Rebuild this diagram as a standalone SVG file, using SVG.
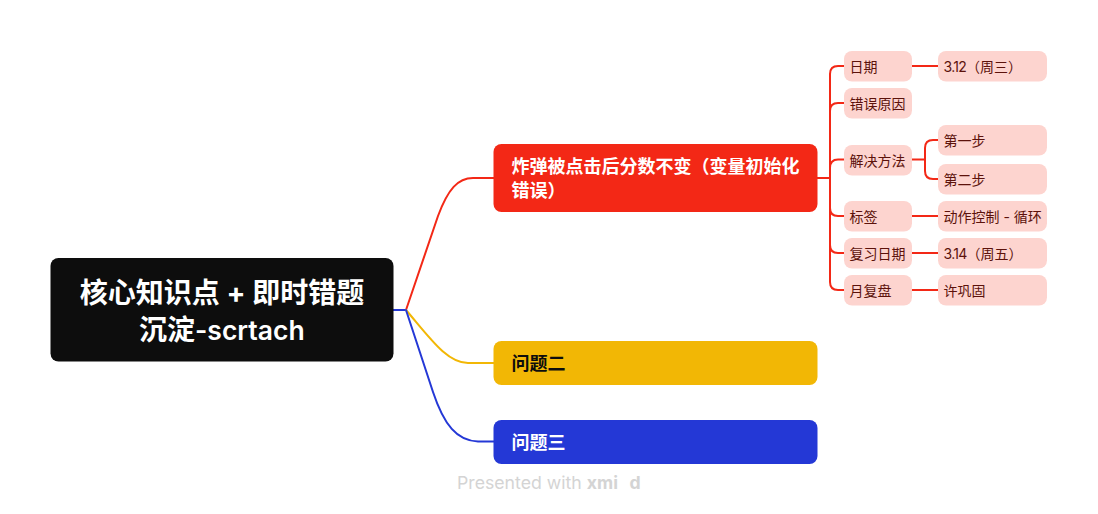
<svg xmlns="http://www.w3.org/2000/svg" width="1098" height="514" viewBox="0 0 1098 514">
<style>
text{font-family:"Inter","Noto Sans CJK SC",sans-serif}
.c{fill:none;stroke-width:2;stroke-linecap:round}
.r{stroke:#f32816}
.sub rect{fill:#fdd4cf}
.sub text{font-size:14px;fill:#5c120b}
.main text{font-size:18px;font-weight:700}
.root{font-size:28px;font-weight:700;fill:#fff}
.lat{letter-spacing:-0.700px}
.latr{font-size:26.500px;font-weight:600}
</style>
<rect width="1098" height="514" fill="#fff"/>
<g id="connectors">
<path class="c" style="stroke:#2438d6" d="M393 310H406"/>
<path class="c r" d="M406 310L438 216C448 189 458 178 473 178H494"/>
<path class="c" style="stroke:#f2b705" d="M406 310C430 338 447 363 468 363H494"/>
<path class="c" style="stroke:#2438d6" d="M406 310L433 392C444 425 457 441 478 441.500H494"/>
<path class="c r" d="M817 178H830"/>
<path class="c r" d="M844 66H838Q830 66 830 74V282Q830 290 838 290H844"/>
<path class="c r" d="M844 103H838Q830 103 830 111"/>
<path class="c r" d="M844 159.500H838Q830 159.500 830 168"/>
<path class="c r" d="M844 216H838Q830 216 830 208"/>
<path class="c r" d="M844 253H838Q830 253 830 245"/>
<path class="c r" d="M912 66H938"/>
<path class="c r" d="M912 159.500H925"/>
<path class="c r" d="M938 140H933Q925 140 925 148V171Q925 179 933 179H938"/>
<path class="c r" d="M912 216H938"/>
<path class="c r" d="M912 253H938"/>
<path class="c r" d="M912 290H938"/>
</g>
<g id="root"><rect x="50.500" y="258" width="343" height="103.500" rx="8" fill="#0d0d0d"/>
<text class="root" x="222" y="303" text-anchor="middle">核心知识点 + 即时错题</text>
<text class="root" x="139" y="340">沉淀<tspan class="latr">-scrtach</tspan></text></g>
<g id="topic1" class="main"><rect x="493.500" y="144" width="324" height="68" rx="8" fill="#f32816"/>
<text x="511.500" y="173" fill="#fff">炸弹被点击后分数不变（变量初始化</text>
<text x="511.500" y="197" fill="#fff">错误）</text></g>
<g id="topic2" class="main"><rect x="493.500" y="341" width="324" height="44" rx="8" fill="#f2b705"/>
<text x="511.500" y="370" fill="#0d0d0d">问题二</text></g>
<g id="topic3" class="main"><rect x="493.500" y="420" width="324" height="44" rx="8" fill="#2438d6"/>
<text x="511.500" y="449" fill="#fff">问题三</text></g>
<g id="n1" class="sub"><rect x="844" y="51" width="68" height="30.500" rx="8"/><text x="849.500" y="71.500">日期</text></g>
<g id="n2" class="sub"><rect x="844" y="88" width="68" height="30.500" rx="8"/><text x="849.500" y="108.500">错误原因</text></g>
<g id="n3" class="sub"><rect x="844" y="145" width="68" height="30.500" rx="8"/><text x="849.500" y="165.500">解决方法</text></g>
<g id="n4" class="sub"><rect x="844" y="201" width="68" height="30.500" rx="8"/><text x="849.500" y="221.500">标签</text></g>
<g id="n5" class="sub"><rect x="844" y="238" width="68" height="30.500" rx="8"/><text x="849.500" y="258.500">复习日期</text></g>
<g id="n6" class="sub"><rect x="844" y="275" width="68" height="30.500" rx="8"/><text x="849.500" y="295.500">月复盘</text></g>
<g id="n7" class="sub"><rect x="938" y="51" width="109" height="30.500" rx="8"/><text x="943.500" y="71.500"><tspan class="lat">3.12</tspan>（周三）</text></g>
<g id="n8" class="sub"><rect x="938" y="125" width="109" height="30.500" rx="8"/><text x="943.500" y="146">第一步</text></g>
<g id="n9" class="sub"><rect x="938" y="164" width="109" height="30.500" rx="8"/><text x="943.500" y="185">第二步</text></g>
<g id="n10" class="sub"><rect x="938" y="201" width="109" height="30.500" rx="8"/><text x="943.500" y="221.500">动作控制 - 循环</text></g>
<g id="n11" class="sub"><rect x="938" y="238" width="109" height="30.500" rx="8"/><text x="943.500" y="258.500"><tspan class="lat">3.14</tspan>（周五）</text></g>
<g id="n12" class="sub"><rect x="938" y="275" width="109" height="30.500" rx="8"/><text x="943.500" y="295.500">许巩固</text></g>
<text x="457" y="489" font-size="17.700" fill="#d4d4d4">Presented with <tspan font-weight="700">xmi</tspan></text>
<text x="629.500" y="489" font-size="17.700" font-weight="700" fill="#d4d4d4">d</text>
</svg>
